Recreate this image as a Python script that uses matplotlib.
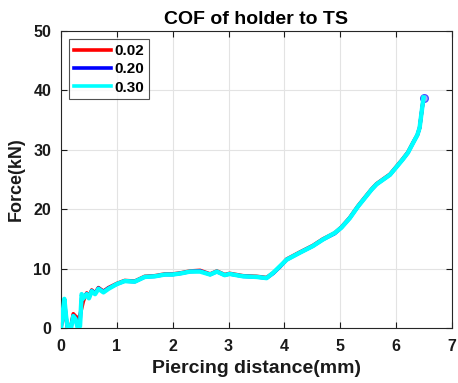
import matplotlib
matplotlib.use("Agg")
import matplotlib.pyplot as plt

plt.rcParams['font.family'] = ['Liberation Sans', 'DejaVu Sans']
plt.rcParams['font.weight'] = 'bold'

x = [0, 0.03, 0.06, 0.09, 0.12, 0.18, 0.22, 0.26, 0.30, 0.34, 0.37, 0.40, 0.46, 0.50, 0.55,
     0.61, 0.67, 0.76, 0.85, 1.0, 1.14, 1.32, 1.5, 1.68, 1.86, 2.0, 2.15, 2.31, 2.49, 2.67,
     2.79, 2.93, 3.02, 3.26, 3.5, 3.68, 3.8, 3.92, 4.04, 4.28, 4.51, 4.69, 4.90, 5.02, 5.17,
     5.32, 5.44, 5.56, 5.65, 5.89, 6.12, 6.21, 6.30, 6.38, 6.42, 6.45, 6.49]
y_002 = [0, 2.0, 4.5, 1.5, 0, 0.5, 2.4, 2.0, 1.5, 2.2, 3.3, 4.5, 5.9, 5.3, 6.4,
         5.9, 6.8, 6.2, 6.8, 7.5, 8.0, 7.9, 8.7, 8.8, 9.1, 9.1, 9.3, 9.6, 9.7, 9.1,
         9.6, 9.0, 9.2, 8.8, 8.7, 8.5, 9.3, 10.3, 11.6, 12.8, 13.9, 15.0, 16.0, 17.0, 18.6,
         20.6, 22.0, 23.4, 24.3, 25.9, 28.5, 29.6, 31.2, 32.5, 33.7, 35.9, 38.8]
y_020 = [0, 2.3, 4.8, 1.8, 0, 0.2, 2.1, 1.6, 0.5, 1.0, 5.0, 5.0, 5.8, 5.1, 6.3,
         5.8, 6.7, 6.1, 6.7, 7.4, 7.9, 7.8, 8.6, 8.7, 9.0, 9.0, 9.2, 9.5, 9.6, 9.0,
         9.5, 8.9, 9.1, 8.7, 8.6, 8.4, 9.2, 10.3, 11.5, 12.7, 13.8, 14.9, 15.9, 16.9, 18.5,
         20.5, 21.9, 23.3, 24.2, 25.8, 28.4, 29.5, 31.1, 32.5, 33.7, 35.9, 38.8]
y_030 = [0, 2.5, 4.9, 2.0, 0, 0, 2.0, 1.5, 0, 0.3, 5.7, 5.0, 5.7, 5.0, 6.2,
         5.7, 6.6, 6.0, 6.6, 7.4, 7.9, 7.8, 8.6, 8.7, 9.0, 9.0, 9.2, 9.5, 9.5, 9.0,
         9.5, 8.9, 9.1, 8.7, 8.6, 8.4, 9.3, 10.4, 11.5, 12.7, 13.8, 14.9, 16.0, 16.9, 18.5,
         20.5, 21.9, 23.3, 24.2, 25.8, 28.4, 29.5, 31.1, 32.5, 33.7, 35.9, 38.8]
labels = ['0.02', '0.20', '0.30']
colors = ['#ff0000', '#0000ff', '#00ffff']
xticks = [0, 1, 2, 3, 4, 5, 6, 7]
yticks = [0, 10, 20, 30, 40, 50]

fig = plt.figure(figsize=(4.58, 3.83), dpi=100)
ax = fig.add_axes([61/458, 1-328/383, 391/458, 297/383])

ax.plot([x[-1]], [y_002[-1]], 'o', ms=5.5, mfc='#b0a8f0', mec='#5050ff', mew=1.0, zorder=2.5)
for yy, lab, c, lw, z in zip([y_002, y_020, y_030], labels, colors, [2.6, 2.6, 3.2], [2, 2.2, 2.6]):
    ax.plot(x, yy, color=c, lw=lw, label=lab, solid_joinstyle='round', zorder=z)

ax.set_xlim(0, 7)
ax.set_ylim(0, 50)
ax.set_xticks(xticks)
ax.set_yticks(yticks)
ax.grid(True, color='#e3e3e3', lw=0.8)
ax.set_axisbelow(True)
ax.tick_params(direction='in', top=True, right=True, length=4, width=0.8,
               colors='#1a1a1a', labelsize=11.5)
ax.tick_params(axis='x', pad=8)
ax.tick_params(axis='y', pad=7)
for lab in ax.get_xticklabels() + ax.get_yticklabels():
    lab.set_fontweight('bold')
for s in ax.spines.values():
    s.set_color('#262626')
    s.set_linewidth(0.8)

ax.set_xlabel('Piercing distance(mm)', fontsize=14, fontweight='bold', color='#1a1a1a', labelpad=4)
ax.set_ylabel('Force(kN)', fontsize=13, fontweight='bold', color='#1a1a1a', labelpad=6)
ax.set_title('COF of holder to TS', fontsize=14, fontweight='bold', color='black', pad=5)

leg = ax.legend(loc='upper left', fontsize=11, frameon=True, fancybox=False,
                edgecolor='#262626', handlelength=2.4, borderaxespad=0.55,
                handletextpad=0.25, labelspacing=0.28, borderpad=0.3)
for t in leg.get_texts():
    t.set_fontweight('bold')
for h in leg.get_lines():
    h.set_linewidth(2.6)
leg.get_frame().set_linewidth(0.8)

fig.savefig('out.png', dpi=100)
